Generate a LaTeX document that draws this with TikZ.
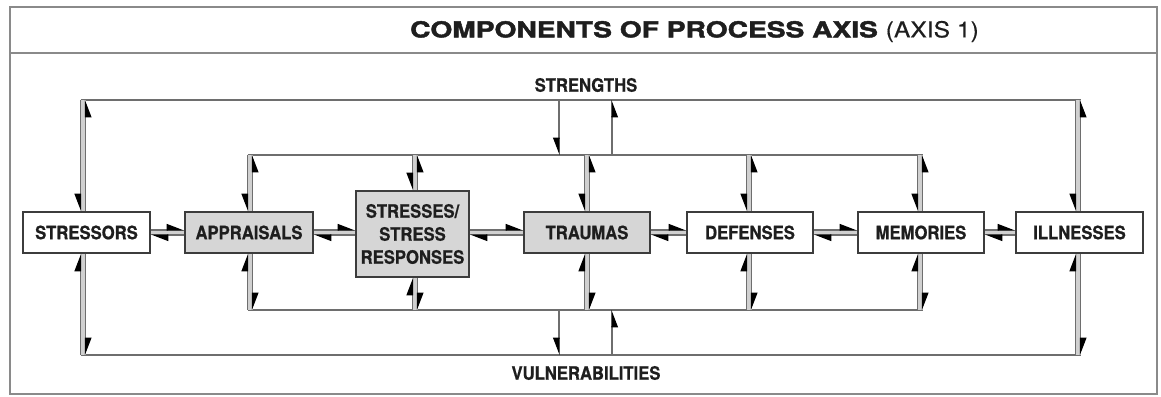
\documentclass[tikz,border=0pt]{standalone}
\usepackage{fontspec}
\usetikzlibrary{arrows.meta,calc}
\newfontfamily\labfont{TeX Gyre Heros}[FakeStretch=0.9,FakeBold=0.7]
\newfontfamily\titleb{TeX Gyre Heros}[FakeStretch=1.28,FakeBold=2]
\newfontfamily\titler{TeX Gyre Heros}[FakeStretch=1.12,FakeBold=0.4]
\definecolor{linec}{HTML}{6E6E6E}
\definecolor{boxc}{HTML}{3C3C3C}
\definecolor{fillc}{HTML}{D6D6D6}
\definecolor{txt}{HTML}{1E1E1E}
\definecolor{framec}{HTML}{8A8A8A}
\definecolor{bandc}{HTML}{D0D0D0}
\tikzset{
  box/.style={draw=boxc, line width=1.6pt, minimum height=41pt, inner sep=0pt,
    font={\labfont\bfseries\fontsize{18.5}{23}\selectfont}, text=txt, align=center, fill=white},
  gbox/.style={box, fill=fillc},
  lbl/.style={font={\labfont\bfseries\fontsize{18.5}{23}\selectfont}, text=txt, inner sep=0pt},
  link/.style={draw=linec, line width=1.1pt},
  harpL/.style={-{Triangle[harpoon,length=16pt,width=12pt,color=black]}},
  harpR/.style={-{Triangle[harpoon,swap,length=16pt,width=12pt,color=black]}},
  band/.style={fill=bandc},
}
\begin{document}
\begin{tikzpicture}[x=1pt,y=-1pt]
\useasboundingbox (0,0) rectangle (1161,396);
% frame and title
\draw[framec, line width=2pt] (9.5,7.5) rectangle (1156.5,393.5);
\draw[framec, line width=2pt] (9.5,53.5) -- (1156.5,53.5);
\node[text=txt, inner sep=0pt, font={\fontsize{22}{26}\selectfont}] (title) at (694.5,31.5)
  {\titleb\bfseries COMPONENTS OF PROCESS AXIS \titler\mdseries (AXIS 1)};
% reference coordinates
\coordinate (otop) at (0,100);
\coordinate (obot) at (0,355);
\coordinate (itop) at (0,155);
\coordinate (ibot) at (0,310);
\coordinate (row) at (0,232.5);
\coordinate (sA) at (559,0);
\coordinate (sB) at (612,0);
\coordinate (cstressors) at (83,0);
\coordinate (cappraisals) at (250,0);
\coordinate (cstresses) at (415,0);
\coordinate (ctraumas) at (587,0);
\coordinate (cdefenses) at (749,0);
\coordinate (cmemories) at (920,0);
\coordinate (cillnesses) at (1078,0);
% boxes
\node[box, minimum width=127pt] (stressors) at (86.5,232.5) {STRESSORS};
\node[gbox, minimum width=128pt] (appraisals) at (249,232.5) {APPRAISALS};
\node[gbox, minimum width=113pt, minimum height=86pt] (stresses) at (412.5,234) {STRESSES/\\STRESS\\RESPONSES};
\node[gbox, minimum width=126pt] (traumas) at (587,232.5) {TRAUMAS};
\node[box, minimum width=126pt] (defenses) at (750,232.5) {DEFENSES};
\node[box, minimum width=126pt] (memories) at (921,232.5) {MEMORIES};
\node[box, minimum width=127pt] (illnesses) at (1079.5,232.5) {ILLNESSES};
% labels
\node[lbl] (strengths) at (586,85) {STRENGTHS};
\node[lbl] (vuln) at (586,373) {VULNERABILITIES};
% loop lines
\draw[link] ($(cstressors |- otop)+(-2.5,0)$) -- ($(cillnesses |- otop)+(2.5,0)$);
\draw[link] ($(cstressors |- obot)+(-2.5,0)$) -- ($(cillnesses |- obot)+(2.5,0)$);
\draw[link] ($(cappraisals |- itop)+(-2.5,0)$) -- ($(cmemories |- itop)+(2.5,0)$);
\draw[link] ($(cappraisals |- ibot)+(-2.5,0)$) -- ($(cmemories |- ibot)+(2.5,0)$);
% strengths / vulnerabilities links
\draw[link, harpR] (sA |- otop) -- (sA |- itop);
\draw[link, harpR] (sB |- itop) -- (sB |- otop);
\draw[link, harpR] (sA |- ibot) -- (sA |- obot);
\draw[link, harpR] (sB |- obot) -- (sB |- ibot);
% vertical double links
\foreach \b/\lt/\lb in {stressors/otop/obot, appraisals/itop/ibot, stresses/itop/ibot,
  traumas/itop/ibot, defenses/itop/ibot, memories/itop/ibot, illnesses/otop/obot} {
  \fill[band] ($(c\b |- \lt)+(-2.5,0)$) rectangle ($(c\b |- \b.north)+(2.5,0)$);
  \fill[band] ($(c\b |- \lb)+(-2.5,0)$) rectangle ($(c\b |- \b.south)+(2.5,0)$);
  \draw[link, harpR] ($(c\b |- \lt)+(-2.5,0)$) -- ($(c\b |- \b.north)+(-2.5,0)$);
  \draw[link, harpR] ($(c\b |- \b.north)+(2.5,0)$) -- ($(c\b |- \lt)+(2.5,0)$);
  \draw[link, harpL] ($(c\b |- \lb)+(-2.5,0)$) -- ($(c\b |- \b.south)+(-2.5,0)$);
  \draw[link, harpL] ($(c\b |- \b.south)+(2.5,0)$) -- ($(c\b |- \lb)+(2.5,0)$);
}
% horizontal double links
\foreach \a/\c in {stressors/appraisals, appraisals/stresses, stresses/traumas,
  traumas/defenses, defenses/memories, memories/illnesses} {
  \fill[band] ($(\a.east |- row)+(0,-2.5)$) rectangle ($(\c.west |- row)+(0,2.5)$);
  \draw[link, harpL] ($(\a.east |- row)+(0,-2.5)$) -- ($(\c.west |- row)+(0,-2.5)$);
  \draw[link, harpL] ($(\c.west |- row)+(0,2.5)$) -- ($(\a.east |- row)+(0,2.5)$);
}
\end{tikzpicture}
\end{document}
